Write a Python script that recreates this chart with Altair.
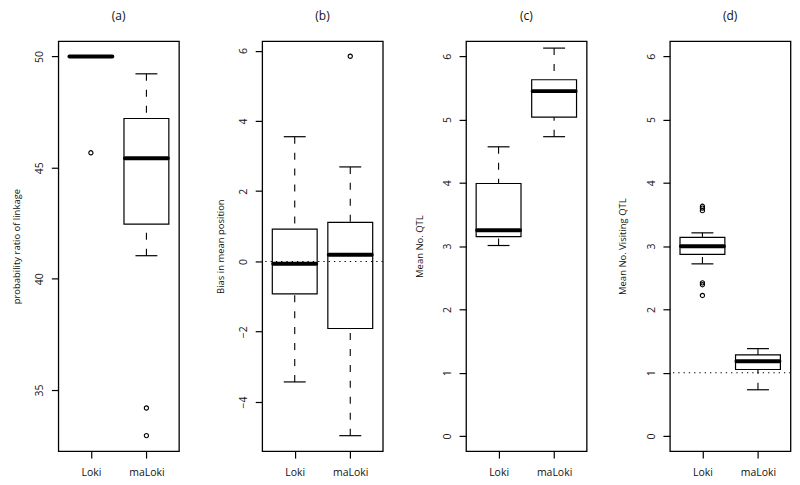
import altair as alt
import pandas as pd

FONT = "Open Sans"

categories = ["Loki", "maLoki"]

# Panel (a)
a_low = [50.0, 41.04]
a_q1 = [50.0, 42.46]
a_med = [50.0, 45.42]
a_q3 = [50.0, 47.21]
a_high = [50.0, 49.22]
a_out_cat = ["Loki", "maLoki", "maLoki"]
a_out_val = [45.67, 34.19, 32.95]
a_domain = [32.25, 50.69]
a_ticks = [35, 40, 45, 50]

# Panel (b)
b_low = [-3.43, -4.96]
b_q1 = [-0.925, -1.91]
b_med = [-0.065, 0.19]
b_q3 = [0.92, 1.11]
b_high = [3.55, 2.69]
b_out_cat = ["maLoki"]
b_out_val = [5.84]
b_domain = [-5.40, 6.27]
b_ticks = [-4, -2, 0, 2, 4, 6]
b_ref = [0]

# Panel (c)
c_low = [3.01, 4.73]
c_q1 = [3.15, 5.04]
c_med = [3.25, 5.45]
c_q3 = [3.99, 5.63]
c_high = [4.57, 6.13]
c_out_cat = []
c_out_val = []
c_domain = [-0.24, 6.24]
c_ticks = [0, 1, 2, 3, 4, 5, 6]

# Panel (d)
d_low = [2.72, 0.73]
d_q1 = [2.87, 1.05]
d_med = [3.00, 1.18]
d_q3 = [3.14, 1.28]
d_high = [3.21, 1.38]
d_out_cat = ["Loki", "Loki", "Loki", "Loki", "Loki", "Loki"]
d_out_val = [3.63, 3.60, 3.56, 2.42, 2.39, 2.22]
d_domain = [-0.24, 6.24]
d_ticks = [0, 1, 2, 3, 4, 5, 6]
d_ref = [1]

W = 121
H = 411.3


def panel(title, ytitle, low, q1, med, q3, high, out_cat, out_val, domain, ticks,
          title_x, ref=None):
    box = pd.DataFrame({"cat": categories, "low": low, "q1": q1, "med": med,
                        "q3": q3, "high": high})
    xaxis = alt.Axis(title=None, labelAngle=0, tickSize=7, domain=False,
                     labelPadding=9, tickColor="black", labelColor="#111",
                     tickWidth=1.2, grid=False, labelFont=FONT, labelFontSize=10.5)
    xscale = alt.Scale(type="point", domain=categories, padding=0.586)

    def X():
        return alt.X("cat:N", scale=xscale, axis=xaxis)

    yscale = alt.Scale(domain=domain, nice=False, zero=False)
    yaxis = alt.Axis(values=ticks, title=ytitle, tickSize=7, domain=False,
                     grid=False, labelAngle=270, labelAlign="center",
                     labelBaseline="alphabetic", labelPadding=8.6,
                     labelFlush=False, labelOverlap=False,
                     tickColor="black", tickWidth=1.2, labelColor="#111",
                     labelFont=FONT, labelFontSize=10.5,
                     titleFont=FONT, titleFontSize=9.5, titleFontWeight="normal",
                     titleX=title_x, titleY=H / 2, titleBaseline="middle",
                     titleAngle=270, titleColor="#111")

    def Y(f):
        return alt.Y(f, type="quantitative", scale=yscale, axis=yaxis, title=ytitle)

    base = alt.Chart(box)
    layers = []
    layers.append(base.mark_rule(color="black", strokeWidth=1.1, strokeDash=[7, 9]).encode(
        x=X(), y=Y("high"), y2="q3"))
    layers.append(base.mark_rule(color="black", strokeWidth=1.1, strokeDash=[7, 9]).encode(
        x=X(), y=Y("low"), y2="q1"))
    layers.append(base.mark_tick(color="black", size=22, thickness=1.2, opacity=1).encode(
        x=X(), y=Y("high")))
    layers.append(base.mark_tick(color="black", size=22, thickness=1.2, opacity=1).encode(
        x=X(), y=Y("low")))
    layers.append(base.mark_bar(size=45, fill="white", fillOpacity=0, stroke="black",
                                strokeWidth=1.2).encode(x=X(), y=Y("q1"), y2="q3"))
    if ref is not None:
        layers.append(alt.Chart(pd.DataFrame({"ref": ref})).mark_rule(
            color="black", strokeWidth=1.1, strokeDash=[1.3, 4]).encode(y=Y("ref")))
    layers.append(base.mark_tick(color="black", size=47, thickness=4, cornerRadius=2,
                                 opacity=1).encode(x=X(), y=Y("med")))
    if len(out_val) > 0:
        outl = pd.DataFrame({"cat": out_cat, "val": out_val})
        layers.append(alt.Chart(outl).mark_point(shape="circle", filled=False, size=18,
                                                 color="black", strokeWidth=1.1,
                                                 opacity=1).encode(x=X(), y=Y("val")))
    return alt.layer(*layers).properties(
        width=W, height=H,
        view=alt.ViewBackground(stroke="black", strokeWidth=1.3, strokeOpacity=1),
        title=alt.TitleParams(title, fontSize=12, font=FONT, fontWeight="normal",
                              anchor="middle", offset=18.2, color="#111"))


pa = panel("(a)", "probability ratio of linkage", a_low, a_q1, a_med, a_q3, a_high,
           a_out_cat, a_out_val, a_domain, a_ticks, -42)
pb = panel("(b)", "Bias in mean position", b_low, b_q1, b_med, b_q3, b_high,
           b_out_cat, b_out_val, b_domain, b_ticks, -41.7, ref=b_ref)
pc = panel("(c)", "Mean No. QTL", c_low, c_q1, c_med, c_q3, c_high,
           c_out_cat, c_out_val, c_domain, c_ticks, -46.5)
pd_ = panel("(d)", "Mean No. Visiting QTL", d_low, d_q1, d_med, d_q3, d_high,
            d_out_cat, d_out_val, d_domain, d_ticks, -47.5, ref=d_ref)

chart = alt.hconcat(pa, pb, pc, pd_, spacing=83.5, bounds="flush").properties(
    padding={"left": 2.5, "right": 0, "top": 0.5, "bottom": 0}
).configure_view(stroke="black", strokeWidth=1.3).configure_axis(
    labelFont=FONT, titleFont=FONT, titleFontWeight="normal"
).configure(background="white")

chart.save("out.html", embed_options={"renderer": "svg", "actions": False})
